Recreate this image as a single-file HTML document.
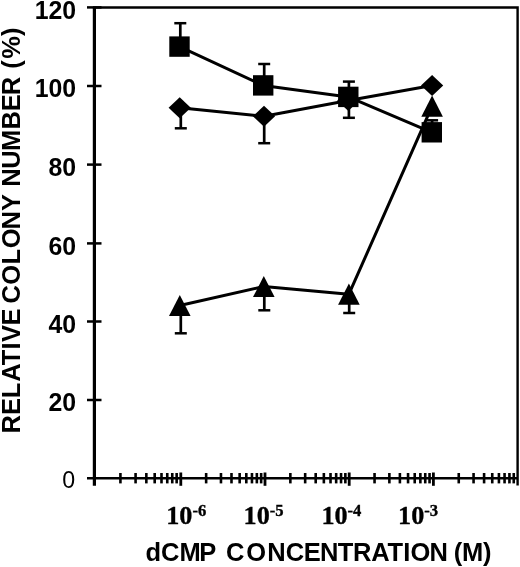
<!DOCTYPE html>
<html lang="en"><head><meta charset="utf-8"><title>dCMP concentration vs relative colony number</title>
<style>html,body{margin:0;padding:0;background:#fff}svg{display:block}</style></head>
<body>
<svg width="520" height="567" viewBox="0 0 520 567">
<rect width="520" height="567" fill="#fff"/>
<g stroke="#000" fill="none" stroke-linecap="butt">
<path d="M94.4 485.8 V7.5" stroke-width="3.2"/>
<path d="M92.9 7.5 H517.6 V485.6" stroke-width="2.4" stroke-linejoin="miter"/>
<path d="M87 478.3 H517.6" stroke-width="2.6"/>
<path d="M87 400.00 H101.5" stroke-width="2.5"/>
<path d="M87 321.50 H101.5" stroke-width="2.5"/>
<path d="M87 243.40 H101.5" stroke-width="2.5"/>
<path d="M87 164.60 H101.5" stroke-width="2.5"/>
<path d="M87 86.00 H101.5" stroke-width="2.5"/>
<path d="M87 7.40 H101.5" stroke-width="2.5"/>
<path d="M120.42 473 V483.4" stroke-width="2.6"/>
<path d="M135.58 473 V483.4" stroke-width="2.6"/>
<path d="M146.34 473 V483.4" stroke-width="2.6"/>
<path d="M154.68 473 V483.4" stroke-width="2.6"/>
<path d="M161.50 473 V483.4" stroke-width="2.6"/>
<path d="M167.26 473 V483.4" stroke-width="2.6"/>
<path d="M172.26 473 V483.4" stroke-width="2.6"/>
<path d="M176.66 473 V483.4" stroke-width="2.6"/>
<path d="M206.15 473 V483.4" stroke-width="2.6"/>
<path d="M220.97 473 V483.4" stroke-width="2.6"/>
<path d="M231.49 473 V483.4" stroke-width="2.6"/>
<path d="M239.65 473 V483.4" stroke-width="2.6"/>
<path d="M246.32 473 V483.4" stroke-width="2.6"/>
<path d="M251.96 473 V483.4" stroke-width="2.6"/>
<path d="M256.84 473 V483.4" stroke-width="2.6"/>
<path d="M261.15 473 V483.4" stroke-width="2.6"/>
<path d="M290.35 473 V483.4" stroke-width="2.6"/>
<path d="M305.17 473 V483.4" stroke-width="2.6"/>
<path d="M315.69 473 V483.4" stroke-width="2.6"/>
<path d="M323.85 473 V483.4" stroke-width="2.6"/>
<path d="M330.52 473 V483.4" stroke-width="2.6"/>
<path d="M336.16 473 V483.4" stroke-width="2.6"/>
<path d="M341.04 473 V483.4" stroke-width="2.6"/>
<path d="M345.35 473 V483.4" stroke-width="2.6"/>
<path d="M374.55 473 V483.4" stroke-width="2.6"/>
<path d="M389.37 473 V483.4" stroke-width="2.6"/>
<path d="M399.89 473 V483.4" stroke-width="2.6"/>
<path d="M408.05 473 V483.4" stroke-width="2.6"/>
<path d="M414.72 473 V483.4" stroke-width="2.6"/>
<path d="M420.36 473 V483.4" stroke-width="2.6"/>
<path d="M425.24 473 V483.4" stroke-width="2.6"/>
<path d="M429.55 473 V483.4" stroke-width="2.6"/>
<path d="M458.75 473 V483.4" stroke-width="2.6"/>
<path d="M473.57 473 V483.4" stroke-width="2.6"/>
<path d="M484.09 473 V483.4" stroke-width="2.6"/>
<path d="M492.25 473 V483.4" stroke-width="2.6"/>
<path d="M498.92 473 V483.4" stroke-width="2.6"/>
<path d="M504.56 473 V483.4" stroke-width="2.6"/>
<path d="M509.44 473 V483.4" stroke-width="2.6"/>
<path d="M513.75 473 V483.4" stroke-width="2.6"/>
<path d="M180.80 472.5 V485.8" stroke-width="2.8"/>
<path d="M265.00 472.5 V485.8" stroke-width="2.8"/>
<path d="M349.20 472.5 V485.8" stroke-width="2.8"/>
<path d="M433.40 472.5 V485.8" stroke-width="2.8"/>
</g>
<g stroke="#000" fill="none" stroke-width="3" stroke-linejoin="round">
<path d="M179.5 46.6 L263.2 85.4 L348.3 96.9 L431.8 132.3"/>
<path d="M179.7 107.7 L264.0 116.2 L348.3 100.5 L432.1 85.6"/>
<path d="M179.8 305.5 L263.8 286.5 L348.9 294.2 L432.1 106.2"/>
</g>
<g stroke="#000" fill="none">
<path d="M180.3 46.6 V23.2" stroke-width="2.7"/><path d="M174.3 23.2 H186.3" stroke-width="2.5"/>
<path d="M264.2 85.4 V64.0" stroke-width="2.7"/><path d="M258.2 64.0 H270.2" stroke-width="2.5"/>
<path d="M348.9 96.9 V81.6" stroke-width="2.7"/><path d="M342.9 81.6 H354.9" stroke-width="2.5"/>
<path d="M432.1 132.3 V120.3" stroke-width="2.7"/><path d="M426.1 120.3 H438.1" stroke-width="2.5"/>
<path d="M180.8 107.7 V128.3" stroke-width="2.7"/><path d="M174.8 128.3 H186.8" stroke-width="2.5"/>
<path d="M264.2 116.2 V143.2" stroke-width="2.7"/><path d="M258.2 143.2 H270.2" stroke-width="2.5"/>
<path d="M348.9 100.5 V117.8" stroke-width="2.7"/><path d="M342.9 117.8 H354.9" stroke-width="2.5"/>
<path d="M180.8 305.5 V333.3" stroke-width="2.7"/><path d="M174.8 333.3 H186.8" stroke-width="2.5"/>
<path d="M264.3 286.5 V310.3" stroke-width="2.7"/><path d="M258.3 310.3 H270.3" stroke-width="2.5"/>
<path d="M349.2 294.2 V313.0" stroke-width="2.7"/><path d="M343.2 313.0 H355.2" stroke-width="2.5"/>
</g>
<g fill="#000">
<rect x="169.3" y="36.4" width="20.4" height="20.4"/>
<rect x="253.0" y="75.2" width="20.4" height="20.4"/>
<rect x="338.1" y="86.7" width="20.4" height="20.4"/>
<rect x="421.6" y="122.1" width="20.4" height="20.4"/>
<path d="M179.7 97.2 L190.8 107.7 L179.7 118.2 L168.6 107.7 Z"/>
<path d="M264.0 105.7 L275.1 116.2 L264.0 126.7 L252.9 116.2 Z"/>
<path d="M348.3 90.0 L359.4 100.5 L348.3 111.0 L337.2 100.5 Z"/>
<path d="M432.1 75.1 L443.2 85.6 L432.1 96.1 L421.0 85.6 Z"/>
<path d="M179.8 294.9 L190.6 316.1 L169.0 316.1 Z"/>
<path d="M263.8 275.9 L274.6 297.1 L253.0 297.1 Z"/>
<path d="M348.9 283.6 L359.7 304.8 L338.1 304.8 Z"/>
<path d="M432.1 95.6 L442.9 116.8 L421.3 116.8 Z"/>
</g>
<g font-family="'Liberation Sans', sans-serif" font-weight="bold" font-size="26px" fill="#000" text-anchor="end">
<text transform="translate(76.1 411.2) scale(0.955 1)">20</text>
<text transform="translate(76.1 332.7) scale(0.955 1)">40</text>
<text transform="translate(76.1 254.6) scale(0.955 1)">60</text>
<text transform="translate(76.1 175.8) scale(0.955 1)">80</text>
<text transform="translate(76.1 97.2) scale(0.955 1)">100</text>
<text transform="translate(76.1 18.6) scale(0.955 1)">120</text>
</g>
<text x="75.1" y="487.7" font-family="'Liberation Sans', sans-serif" font-size="23.2px" text-anchor="end" fill="#000">0</text>
<text transform="translate(20.2 230) rotate(-90) scale(1.02 1)" x="-199.43 -181.28 -164.91 -148.84 -132.64 -117.08 -109.84 -93.75 -77.88 -72.11 -53.66 -33.92 -17.97 0.50 18.55 35.07 42.31 60.07 77.44 98.45 116.31 132.01 150.55 157.99 167.88 190.11" y="0" font-family="'Liberation Sans', sans-serif" font-weight="bold" font-size="25px" fill="#000">RELATIVE COLONY NUMBER (%)</text>
<text transform="translate(0 560.8) scale(1.02 1)" x="142.55 157.87 175.92 195.47 212.66 221.57 241.48 262.01 280.26 297.92 313.71 331.08 346.15 364.10 379.93 395.29 402.34 421.09 438.17 444.82 452.85 473.47" y="0" font-family="'Liberation Sans', sans-serif" font-weight="bold" font-size="25px" fill="#000">dCMP CONCENTRATION (M)</text>
<g font-family="'Liberation Serif', serif" font-weight="bold" font-size="26.2px" fill="#000" stroke="#000" stroke-width="0.35">
<text x="166.2" y="524">10<tspan dy="-7.6" font-size="16.6px">-6</tspan></text>
<text x="243.6" y="524">10<tspan dy="-7.6" font-size="16.6px">-5</tspan></text>
<text x="321.4" y="524">10<tspan dy="-7.6" font-size="16.6px">-4</tspan></text>
<text x="398.1" y="524">10<tspan dy="-7.6" font-size="16.6px">-3</tspan></text>
</g>
</svg>
</body></html>
